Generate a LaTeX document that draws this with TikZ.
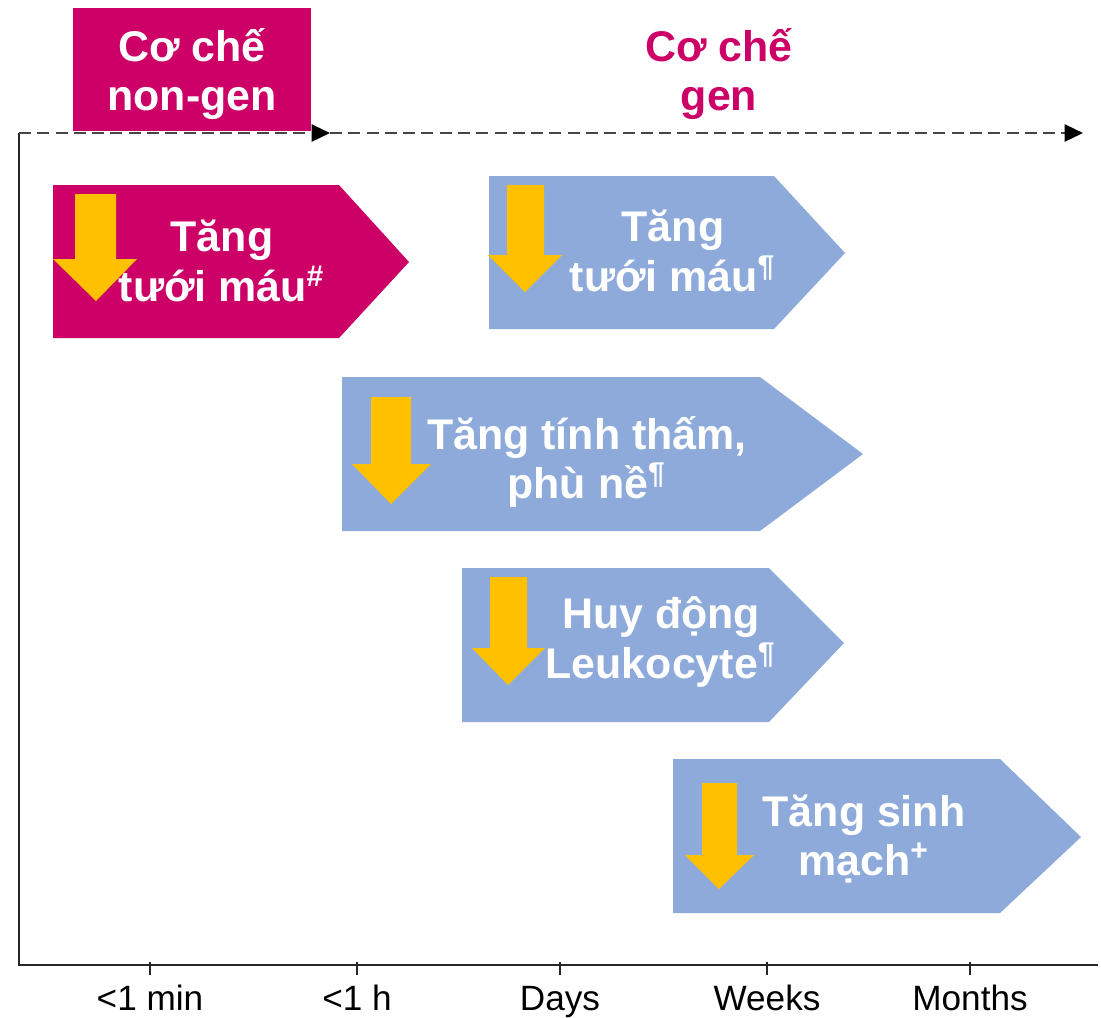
\documentclass[tikz,border=0pt]{standalone}
\usepackage{fontspec}
\setmainfont{Liberation Sans}
\usetikzlibrary{arrows.meta}
\definecolor{mechpink}{RGB}{204,0,102}
\definecolor{mechblue}{RGB}{142,170,219}
\definecolor{downyellow}{RGB}{255,192,0}
\definecolor{dashgray}{RGB}{70,70,70}
\begin{document}
\begin{tikzpicture}[x=0.01cm,y=-0.01cm,
		pinkbox/.style={fill=mechpink, draw=none},
		bluebox/.style={fill=mechblue, draw=none},
		downarrow/.style={fill=downyellow, draw=none},
		boxtext/.style={text=white, align=center, inner sep=0pt, font=\fontsize{12.2}{14.1}\selectfont\bfseries},
		headtext/.style={text=mechpink, align=center, inner sep=0pt, font=\fontsize{12.2}{14.1}\selectfont\bfseries},
		ticklabel/.style={anchor=base, inner sep=0pt, font=\fontsize{10}{12}\selectfont},
		timeline/.style={dashgray, line width=0.75pt, dash pattern=on 3.4pt off 1.8pt, -{Triangle[length=5.2pt,width=4.8pt,color=black]}},
		axis/.style={black!85, line width=0.7pt}]
			\useasboundingbox (0,0) rectangle (1101,1017);
			% axes
			\coordinate (origin) at (19,133);
			\coordinate (switch) at (330,133);
			\coordinate (tend) at (1083,133);
			\coordinate (corner) at (19,965);
			\coordinate (xend) at (1098,965);
			\draw[axis] (origin) -- (corner) -- (xend);
			\draw[timeline] (origin) -- (switch);
			\draw[timeline] (switch) -- (tend);
			\foreach \x/\t [count=\i] in {150/{<1 min}, 357/{<1 h}, 560/{Days}, 767/{Weeks}, 970/{Months}} {
				\draw[axis] (\x,962) -- (\x,975);
				\node[ticklabel] (tick\i) at (\x,1010) {\t};
			}
			% headers
			\filldraw[pinkbox] (73,8) rectangle (311,131);
			\node[boxtext] (nongen) at (192,74) {Cơ chế\\non-gen};
			\node[headtext] (gen) at (719,74) {Cơ chế\\gen};
			% effects
			\filldraw[pinkbox] (53,185) -- (339,185) -- (409,262) -- (339,338) -- (53,338) -- cycle;
			\filldraw[bluebox] (489,176) -- (774,176) -- (845,253) -- (774,329) -- (489,329) -- cycle;
			\filldraw[bluebox] (342,377) -- (760,377) -- (863,454) -- (760,531) -- (342,531) -- cycle;
			\filldraw[bluebox] (462,568) -- (769,568) -- (844,643) -- (769,722) -- (462,722) -- cycle;
			\filldraw[bluebox] (673,759) -- (1000,759) -- (1081,837) -- (1000,913) -- (673,913) -- cycle;
			% down arrows
			\filldraw[downarrow] (75,194) -- (116,194) -- (116,259) -- (137,259) -- (96,301) -- (53,259) -- (75,259) -- cycle;
			\filldraw[downarrow] (507,185) -- (544,185) -- (544,255) -- (562,255) -- (525,292) -- (488,255) -- (507,255) -- cycle;
			\filldraw[downarrow] (371,397) -- (411,397) -- (411,464) -- (431,464) -- (391,504) -- (352,464) -- (371,464) -- cycle;
			\filldraw[downarrow] (490,577) -- (527,577) -- (527,648) -- (545,648) -- (508,685) -- (472,648) -- (490,648) -- cycle;
			\filldraw[downarrow] (702,783) -- (737,783) -- (737,855) -- (754,855) -- (719,889) -- (685,855) -- (702,855) -- cycle;
			% labels
			\node[boxtext] (flow1) at (222,261) {Tăng\\tưới máu\textsuperscript{\#}};
			\node[boxtext] (flow2) at (673,251) {Tăng\\tưới máu\textsuperscript{¶}};
			\node[boxtext] (perm) at (587,462) {Tăng tính thấm,\\phù nề\textsuperscript{¶}};
			\node[boxtext] (leuko) at (661,642) {Huy động\\Leukocyte\textsuperscript{¶}};
			\node[boxtext] (angio) at (864,839) {Tăng sinh\\mạch\textsuperscript{+}};
		\end{tikzpicture}
\end{document}
